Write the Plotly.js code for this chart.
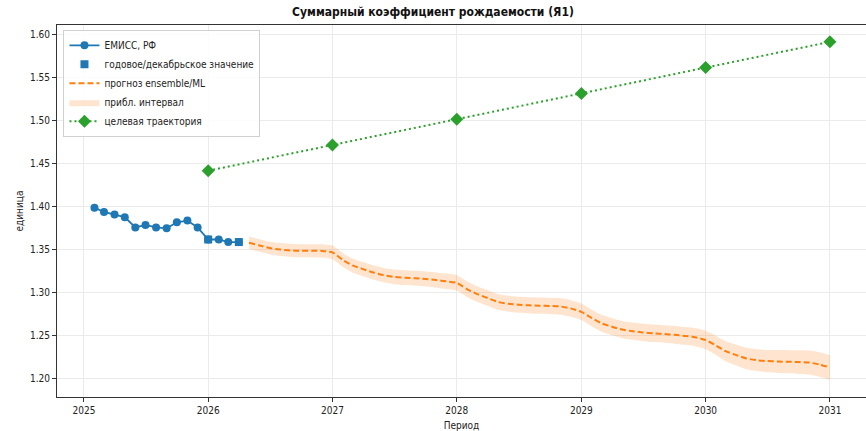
<!DOCTYPE html>
<html>
<head>
<meta charset="utf-8">
<script src="https://cdn.plot.ly/plotly-3.0.1.min.js"></script>
<style>html,body{margin:0;padding:0;background:#fff;}#chart{width:866px;height:431px;}</style>
</head>
<body>
<div id="chart"></div>
<script>
// ---------- data ----------
const histStart = [2025, 2];          // first monthly observation (year, month)
const histValues = [1.399, 1.394, 1.391, 1.388, 1.376, 1.379, 1.376, 1.375,
                    1.382, 1.384, 1.376, 1.362, 1.362, 1.359, 1.359];
const annualDates = ['2026-01-01', '2026-04-01'];
const annualValues = [1.362, 1.359];

const forecastStart = [2026, 5];
const forecastValues = [1.3583,1.3550,1.3520,1.3503,1.3492,1.3489,1.3488,1.3487,
  1.3470,1.3380,1.3318,1.3275,1.3236,1.3205,1.3185,1.3175,1.3168,1.3160,1.3148,1.3133,
  1.3115,1.3040,1.2985,1.2938,1.2893,1.2872,1.2860,1.2854,1.2850,1.2846,1.2840,1.2818,
  1.2778,1.2705,1.2645,1.2605,1.2572,1.2553,1.2538,1.2528,1.2520,1.2511,1.2498,1.2483,
  1.2450,1.2385,1.2320,1.2275,1.2235,1.2215,1.2205,1.2200,1.2197,1.2193,1.2188,1.2165,1.2131];
const bandHalfWidth = [0.0073,0.0074,0.0074,0.0075,0.0076,0.0077,0.0077,0.0078,
  0.0079,0.0080,0.0081,0.0082,0.0083,0.0084,0.0085,0.0086,0.0087,0.0088,0.0089,0.0090,
  0.0090,0.0091,0.0091,0.0092,0.0092,0.0093,0.0093,0.0094,0.0094,0.0095,0.0095,0.0096,
  0.0096,0.0097,0.0098,0.0099,0.0100,0.0100,0.0101,0.0102,0.0102,0.0103,0.0104,0.0106,
  0.0108,0.0112,0.0116,0.0120,0.0124,0.0127,0.0130,0.0133,0.0135,0.0137,0.0139,0.0142,0.0145];

const targetDates = ['2026-01-01','2027-01-01','2028-01-01','2029-01-01','2030-01-01','2031-01-01'];
const targetValues = [1.442, 1.472, 1.502, 1.532, 1.562, 1.592];

const yTicks = [1.20, 1.25, 1.30, 1.35, 1.40, 1.45, 1.50, 1.55, 1.60];
const xTickYears = ['2025','2026','2027','2028','2029','2030','2031'];

const names = ['ЕМИСС, РФ', 'годовое/декабрьское значение', 'прогноз ensemble/ML',
               'прибл. интервал', 'целевая траектория'];

// ---------- helpers ----------
function monthDates(start, n) {
  const out = [];
  let y = start[0], m = start[1];
  for (let i = 0; i < n; i++) {
    out.push(y + '-' + String(m).padStart(2, '0') + '-01');
    m++; if (m > 12) { m = 1; y++; }
  }
  return out;
}
const histDates = monthDates(histStart, histValues.length);
const forecastDates = monthDates(forecastStart, forecastValues.length);
const bandLow = forecastValues.map((v, i) => v - bandHalfWidth[i]);
const bandHigh = forecastValues.map((v, i) => v + bandHalfWidth[i]);

const C_BLUE = '#1f77b4', C_ORANGE = '#ff7f0e', C_GREEN = '#2ca02c';
const FONT = '"DejaVu Sans Condensed", "DejaVu Sans", sans-serif';

const traces = [
  { x: forecastDates, y: bandLow, mode: 'lines', line: {width: 0, color: 'rgba(0,0,0,0)', shape: 'spline', smoothing: 0.6},
    showlegend: false, hoverinfo: 'skip' },
  { x: forecastDates, y: bandHigh, mode: 'lines', fill: 'tonexty', fillcolor: 'rgba(255,127,14,0.2)',
    line: {width: 0, color: 'rgba(0,0,0,0)', shape: 'spline', smoothing: 0.6}, name: names[3], legendrank: 4 },
  { x: histDates, y: histValues, mode: 'lines+markers', name: names[0], legendrank: 1,
    line: {color: C_BLUE, width: 1.8}, marker: {color: C_BLUE, size: 8, symbol: 'circle'} },
  { x: annualDates, y: annualValues, mode: 'markers', name: names[1], legendrank: 2,
    marker: {color: C_BLUE, size: 8, symbol: 'square'} },
  { x: forecastDates, y: forecastValues, mode: 'lines', name: names[2], legendrank: 3,
    line: {color: C_ORANGE, width: 2, dash: '6px,3px', shape: 'spline', smoothing: 0.6} },
  { x: targetDates, y: targetValues, mode: 'lines+markers', name: names[4], legendrank: 5,
    line: {color: C_GREEN, width: 2, dash: '2px,3px'}, marker: {color: C_GREEN, size: 10, symbol: 'diamond'} }
];

const layout = {
  width: 866, height: 431,
  margin: {l: 57, r: 0, t: 25, b: 34},
  paper_bgcolor: '#fff', plot_bgcolor: '#fff',
  font: {family: FONT, size: 10, color: '#222'},
  title: {text: '<b>Суммарный коэффициент рождаемости (Я1)</b>', font: {family: FONT, size: 12, color: '#111'},
          xref: 'container', x: 0.5, xanchor: 'center', yref: 'container', y: 0.972, yanchor: 'middle'},
  xaxis: {
    type: 'date', range: ['2024-10-14', '2031-04-17'],
    tickmode: 'array', tickvals: xTickYears.map(y => y + '-01-01'), ticktext: xTickYears,
    showgrid: true, gridcolor: '#ebebeb', gridwidth: 1,
    showline: true, linecolor: '#333', linewidth: 1, mirror: true,
    ticks: 'outside', ticklen: 4, tickcolor: '#333', zeroline: false,
    tickfont: {size: 10, color: '#222'},
    title: {text: 'Период', font: {size: 10, color: '#222'}, standoff: 6}
  },
  yaxis: {
    range: [1.1787, 1.6116],
    tickmode: 'array', tickvals: yTicks, ticktext: yTicks.map(v => v.toFixed(2)),
    showgrid: true, gridcolor: '#ebebeb', gridwidth: 1,
    showline: true, linecolor: '#333', linewidth: 1, mirror: true,
    ticks: 'outside', ticklen: 4, tickcolor: '#333', zeroline: false,
    tickfont: {size: 10, color: '#222'},
    title: {text: 'единица', font: {size: 10, color: '#222'}, standoff: 4}
  },
  legend: {
    x: 0.008, y: 0.987, xanchor: 'left', yanchor: 'top', traceorder: 'normal',
    bgcolor: 'rgba(255,255,255,0.85)', bordercolor: '#d0d0d0', borderwidth: 1,
    font: {size: 10, color: '#222'}, tracegroupgap: 0, itemwidth: 30
  },
  showlegend: true,
  hovermode: false
};

Plotly.newPlot('chart', traces, layout, {staticPlot: true, displayModeBar: false});
</script>
</body>
</html>
